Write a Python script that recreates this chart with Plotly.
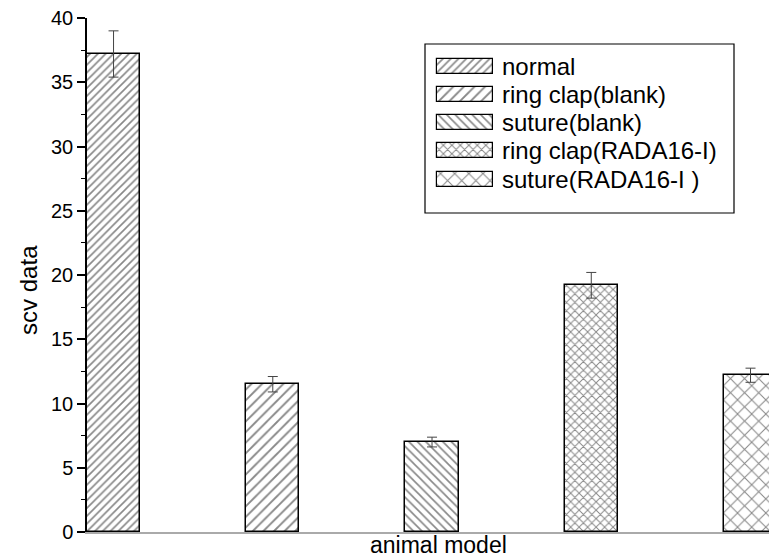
import plotly.graph_objects as go

# ---- data ----
categories = ["normal", "ring clap(blank)", "suture(blank)", "ring clap(RADA16-I)", "suture(RADA16-I )"]
values = [37.2, 11.5, 7.0, 19.2, 12.2]
errors = [1.8, 0.6, 0.38, 1.0, 0.55]
y_ticks = [0, 5, 10, 15, 20, 25, 30, 35, 40]

# ---- styles ----
pat_shapes = ["/", "/", "\\", "x", "x"]
pat_sizes = [5.5, 7.5, 6, 6, 10]
pat_solid = [0.3, 0.25, 0.28, 0.3, 0.2]
FONT = "Liberation Sans, Arial, sans-serif"

fig = go.Figure()

fig.add_trace(go.Bar(
    x=categories, y=values, width=1/3,
    marker=dict(color="white", line=dict(color="black", width=1.5),
                pattern=dict(shape=pat_shapes, size=pat_sizes, solidity=pat_solid,
                             fgcolor="#111111", bgcolor="white")),
    error_y=dict(type="data", array=errors, color="#444444", thickness=1, width=5),
    showlegend=False, hoverinfo="skip",
))

# custom legend on an overlay pixel-space axis
leg_rows = [66, 94.3, 122.3, 150.7, 179.3]
fig.add_trace(go.Bar(
    y=leg_rows, x=[56] * len(categories), base=437, width=15, orientation="h",
    xaxis="x2", yaxis="y2",
    marker=dict(color="white", line=dict(color="black", width=1.2),
                pattern=dict(shape=pat_shapes, size=pat_sizes, solidity=pat_solid,
                             fgcolor="#111111", bgcolor="white")),
    showlegend=False, hoverinfo="skip",
))

annotations = []
for name, yy in zip(categories, leg_rows):
    annotations.append(dict(text=name, x=500, y=yy, xref="x2", yref="y2",
                            xanchor="left", yanchor="middle", showarrow=False,
                            font=dict(family=FONT, size=24, color="black")))
annotations.append(dict(text="scv data", textangle=-90, x=0, xref="paper", xshift=-58,
                        y=0.471, yref="paper", xanchor="center", yanchor="middle",
                        showarrow=False, font=dict(family=FONT, size=24, color="black")))
annotations.append(dict(text="animal model", x=0.515, xref="paper", y=0, yref="paper",
                        yshift=-13, xanchor="center", yanchor="middle", showarrow=False,
                        font=dict(family=FONT, size=23, color="black")))

fig.update_layout(
    width=769, height=558,
    margin=dict(l=87, r=0, t=18, b=26),
    plot_bgcolor="white", paper_bgcolor="white",
    showlegend=False, bargap=0,
    font=dict(family=FONT, color="black"),
    xaxis=dict(type="category", range=[-1/6, 4.116], showticklabels=False, ticks="",
               showgrid=False, zeroline=False, showline=True, linecolor="#aaaaaa", linewidth=1.5),
    yaxis=dict(range=[0, 40], tickvals=y_ticks, ticks="outside", ticklen=8, tickwidth=1.5,
               tickcolor="black", showline=True, linecolor="black", linewidth=1.5,
               showgrid=False, zeroline=False, tickfont=dict(family=FONT, size=20),
               minor=dict(ticks="outside", ticklen=4, dtick=2.5, tickcolor="black", tickwidth=1.2)),
    xaxis2=dict(overlaying="x", anchor="y2", range=[87, 769], visible=False, fixedrange=True),
    yaxis2=dict(overlaying="y", anchor="x2", range=[532, 18], visible=False, fixedrange=True),
    shapes=[dict(type="rect", xref="x2", yref="y2", x0=425, x1=734, y0=44, y1=213,
                 line=dict(color="black", width=1.2), fillcolor="white", layer="below")],
    annotations=annotations,
)

fig.write_html("out.html", config={"displayModeBar": False},
               post_script="document.body.style.margin='0';document.body.style.overflow='hidden';")
